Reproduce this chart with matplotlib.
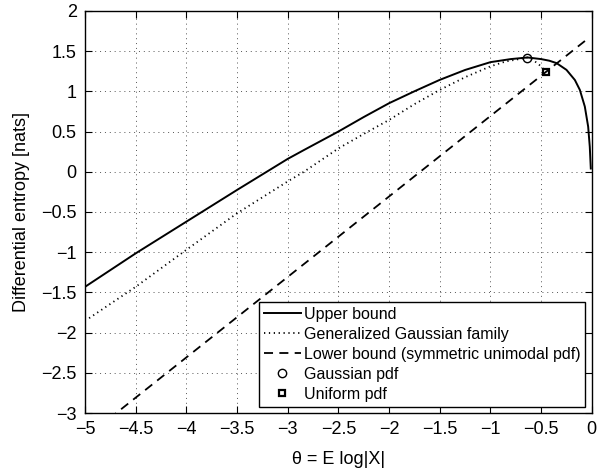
import matplotlib.pyplot as plt

plt.rcParams['font.family'] = ['Liberation Sans', 'DejaVu Sans']

# upper bound
ub_theta = [-5.0, -4.5, -4.0, -3.5, -3.0, -2.84, -2.5, -2.25, -2.0, -1.75, -1.5,
            -1.25, -1.0, -0.8, -0.634, -0.5, -0.42, -0.348, -0.25, -0.167, -0.118,
            -0.069, -0.036, -0.02, -0.01]
ub_h = [-1.43, -1.014, -0.62, -0.226, 0.16, 0.27, 0.5, 0.68, 0.852, 1.0, 1.142,
        1.265, 1.362, 1.40, 1.42, 1.40, 1.38, 1.35, 1.266, 1.14, 1.017,
        0.81, 0.56, 0.31, 0.04]

# generalized Gaussian family
gg_theta = [-4.96, -4.5, -4.0, -3.5, -3.0, -2.84, -2.5, -2.25, -2.0, -1.75, -1.5,
            -1.25, -1.0, -0.85, -0.634, -0.58, -0.52, -0.451]
gg_h = [-1.82, -1.43, -0.97, -0.516, -0.12, 0.0, 0.29, 0.47, 0.644, 0.84, 1.017,
        1.175, 1.31, 1.37, 1.419, 1.39, 1.33, 1.2425]

# lower bound (symmetric unimodal pdf)
lb_theta = [-5.0, -0.06]
lb_h = [-3.307, 1.633]

gauss_pt = (-0.635, 1.419)
unif_pt = (-0.451, 1.2425)

xticks = [-5, -4.5, -4, -3.5, -3, -2.5, -2, -1.5, -1, -0.5, 0]
yticks = [-3, -2.5, -2, -1.5, -1, -0.5, 0, 0.5, 1, 1.5, 2]

fig = plt.figure(figsize=(5.99, 4.70), dpi=100)
ax = fig.add_axes([0.142, 0.121, 0.846, 0.856])

ax.plot(ub_theta, ub_h, color='black', lw=1.4, label='Upper bound')
ax.plot(gg_theta, gg_h, color='black', lw=1.3, linestyle=(0, (0.7, 2.0)),
        label='Generalized Gaussian family')
ax.plot(lb_theta, lb_h, color='black', lw=1.3, linestyle=(0, (5, 3.5)),
        label='Lower bound (symmetric unimodal pdf)')
ax.plot(*gauss_pt, 'o', mfc='none', mec='black', ms=6, mew=1.0, linestyle='none',
        label='Gaussian pdf')
ax.plot(*unif_pt, 's', mfc='none', mec='black', ms=5, mew=1.6, linestyle='none',
        label='Uniform pdf')

ax.set_xlim(-5, 0)
ax.set_ylim(-3, 2)
ax.set_xticks(xticks)
ax.set_yticks(yticks)
ax.set_xticklabels([f'{t:g}'.replace('-', '\u2212') for t in xticks])
ax.set_yticklabels([f'{t:g}'.replace('-', '\u2212') for t in yticks])
ax.tick_params(direction='in', top=True, right=True, length=5, width=0.8,
               labelsize=13, pad=6)
ax.grid(True, color='#555555', linestyle=(0, (1, 4)), linewidth=0.7)
for s in ax.spines.values():
    s.set_linewidth(1.0)

ax.set_xlabel('\u03b8 = E log|X|', fontsize=13, labelpad=9)
ax.set_ylabel('Differential entropy [nats]', fontsize=13, labelpad=8)

leg = ax.legend(loc='lower right', fontsize=11.5, frameon=True, fancybox=False,
                edgecolor='black', framealpha=1, handlelength=2.3,
                handletextpad=0.2, labelspacing=0.32, borderpad=0.3,
                borderaxespad=0.4)
leg.get_frame().set_linewidth(1.0)

fig.savefig('out.png', dpi=100)
